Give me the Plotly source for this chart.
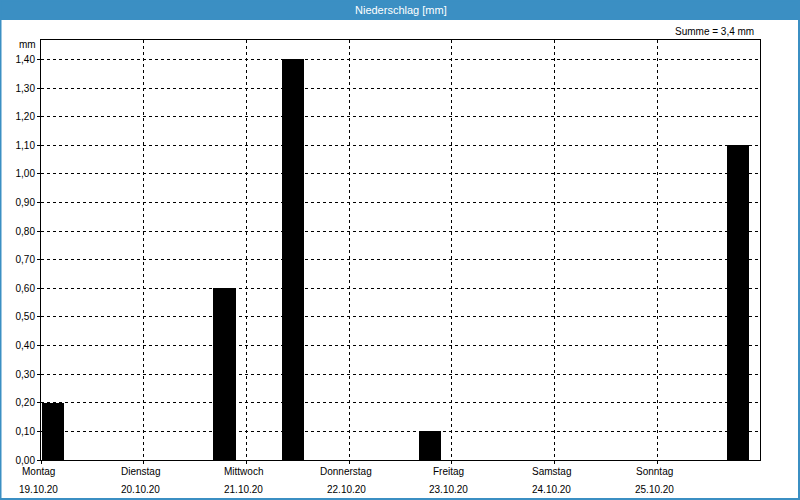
import plotly.graph_objects as go
from datetime import datetime, timedelta

# 8-hour precipitation bins, week 19.10.20 - 25.10.20
week_start = "2020-10-19"
bin_hours = 8
precip_mm = [0.2, 0.0, 0.0, 0.0, 0.0, 0.6, 0.0,
             1.4, 0.0, 0.0, 0.0, 0.1, 0.0, 0.0,
             0.0, 0.0, 0.0, 0.0, 0.0, 0.0, 1.1]
day_names = ["Montag", "Dienstag", "Mittwoch", "Donnerstag", "Freitag", "Samstag", "Sonntag"]
day_dates = ["19.10.20", "20.10.20", "21.10.20", "22.10.20", "23.10.20", "24.10.20", "25.10.20"]
y_ticks = [0.0, 0.1, 0.2, 0.3, 0.4, 0.5, 0.6, 0.7, 0.8, 0.9, 1.0, 1.1, 1.2, 1.3, 1.4]

t0 = datetime.fromisoformat(week_start)
bin_starts = [t0 + timedelta(hours=bin_hours * i) for i in range(len(precip_mm))]
day_starts = [t0 + timedelta(days=i) for i in range(len(day_names))]
total = sum(precip_mm)

BLUE = "#3b8fc3"
FONT = "Liberation Sans"
HOUR_MS = 3600 * 1000

fig = go.Figure()
fig.add_trace(go.Bar(
    x=bin_starts, y=precip_mm,
    marker=dict(color="black", line=dict(width=0)),
    offset=0.3 * HOUR_MS, width=5.15 * HOUR_MS,
    hoverinfo="skip",
))

L, R, T, B = 41, 40, 40, 40
W, H = 800, 500
pw, ph = W - L - R, H - T - B

def px_x(p):
    return (p - L) / pw

def px_y(p):
    return (H - B - p) / ph

annotations = [
    dict(text="Niederschlag [mm]", xref="paper", yref="paper",
         x=0.5, y=px_y(10), xanchor="center", yanchor="middle",
         showarrow=False, font=dict(family=FONT, size=11, color="white")),
    dict(text=f"Summe = {total:.1f}".replace(".", ",") + " mm",
         xref="paper", yref="paper", x=px_x(756), y=px_y(31),
         xanchor="right", yanchor="middle", showarrow=False,
         font=dict(family=FONT, size=10, color="black")),
    dict(text="mm", xref="paper", yref="paper", x=px_x(38), y=px_y(45),
         xanchor="right", yanchor="middle", showarrow=False,
         font=dict(family=FONT, size=10, color="black")),
]
for d, name, date in zip(day_starts, day_names, day_dates):
    annotations.append(dict(text=name, xref="x", yref="paper", x=d, y=px_y(472),
                            xanchor="center", yanchor="middle", xshift=-3,
                            showarrow=False, font=dict(family=FONT, size=10, color="black")))
    annotations.append(dict(text=date, xref="x", yref="paper", x=d, y=px_y(489),
                            xanchor="center", yanchor="middle", xshift=-3,
                            showarrow=False, font=dict(family=FONT, size=10, color="black")))

fig.update_layout(
    width=W, height=H,
    margin=dict(l=L, r=R, t=T, b=B),
    paper_bgcolor="white", plot_bgcolor="white",
    separators=",.",
    showlegend=False,
    bargap=0,
    font=dict(family=FONT, size=10, color="black"),
    xaxis=dict(
        type="date",
        range=[t0, t0 + timedelta(days=7)],
        tickvals=day_starts,
        showticklabels=False,
        showgrid=True, gridcolor="black", gridwidth=1, griddash="3px,3px",
        showline=True, linecolor="black", linewidth=1, mirror=True,
        ticks="outside", ticklen=3, tickcolor="black",
        zeroline=False, fixedrange=True,
    ),
    yaxis=dict(
        range=[0, 1.468],
        tickvals=y_ticks,
        tickformat=".2f",
        showgrid=True, gridcolor="black", gridwidth=1, griddash="3px,3px",
        showline=True, linecolor="black", linewidth=1, mirror=True,
        ticks="outside", ticklen=3, tickcolor="black",
        tickfont=dict(family=FONT, size=10, color="black"),
        zeroline=False, fixedrange=True,
    ),
    shapes=[
        dict(type="rect", xref="paper", yref="paper",
             x0=px_x(0), x1=px_x(W), y0=px_y(0), y1=px_y(20),
             fillcolor=BLUE, line=dict(width=0), layer="above"),
        dict(type="rect", xref="paper", yref="paper",
             x0=px_x(0.5), x1=px_x(W - 1), y0=px_y(0.5), y1=px_y(H - 1),
             fillcolor="rgba(0,0,0,0)", line=dict(color=BLUE, width=2), layer="above"),
    ],
    annotations=annotations,
)

fig.write_html("out.html")
